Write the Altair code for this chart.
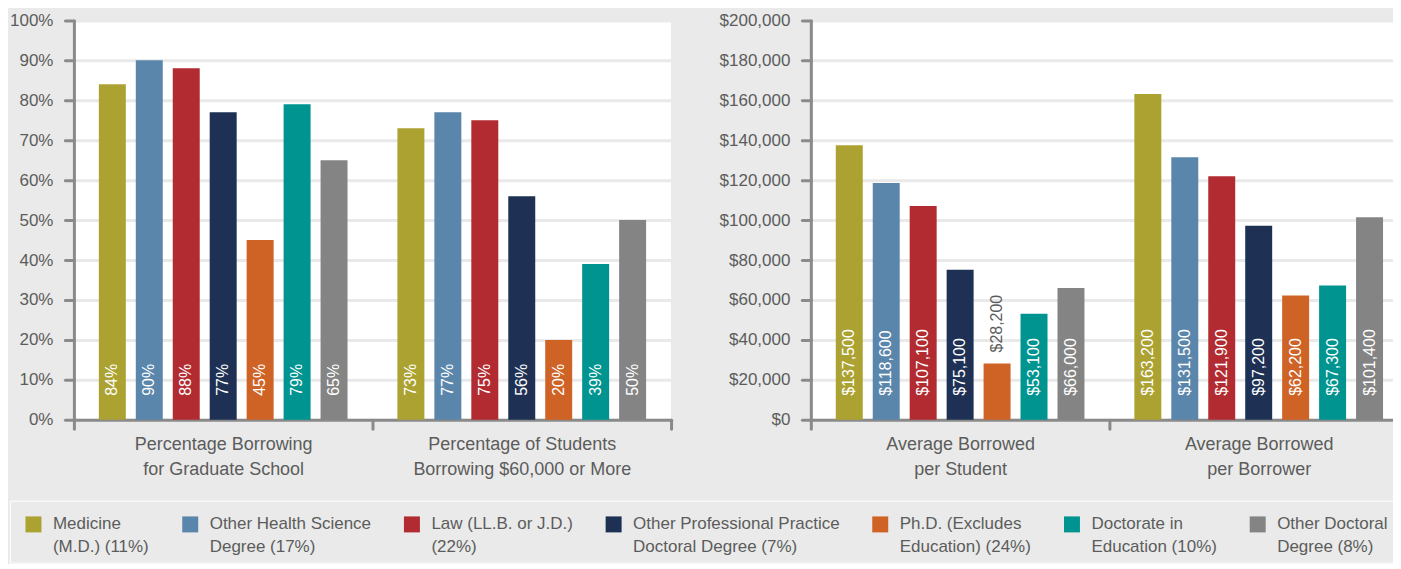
import altair as alt
import pandas as pd

# ---- data ----
degrees = [
    "Medicine|(M.D.) (11%)",
    "Other Health Science|Degree (17%)",
    "Law (LL.B. or J.D.)|(22%)",
    "Other Professional Practice|Doctoral Degree (7%)",
    "Ph.D. (Excludes|Education) (24%)",
    "Doctorate in|Education (10%)",
    "Other Doctoral|Degree (8%)",
]
colors = ["#aba232", "#5a86ab", "#b22b30", "#1e3054", "#cf6225", "#009490", "#838483"]

pct_groups = ["Percentage Borrowing|for Graduate School",
              "Percentage of Students|Borrowing $60,000 or More"]
pct_borrowing = [84, 90, 88, 77, 45, 79, 65]
pct_60k_or_more = [73, 77, 75, 56, 20, 39, 50]

amt_groups = ["Average Borrowed|per Student", "Average Borrowed|per Borrower"]
avg_per_student = [137500, 118600, 107100, 75100, 28200, 53100, 66000]
avg_per_borrower = [163200, 131500, 121900, 97200, 62200, 67300, 101400]

pct_ticks = [0, 10, 20, 30, 40, 50, 60, 70, 80, 90, 100]
amt_ticks = [0, 20000, 40000, 60000, 80000, 100000, 120000, 140000, 160000, 180000, 200000]

FONT = "Liberation Sans, Arial, Helvetica, sans-serif"
BG = "#e9eae9"
TXT = "#5c5c5c"
AX = "#8a8a8a"


def make_df(groups, series, ymax, kind):
    rows = []
    for g, vals in zip(groups, series):
        for d, v in zip(degrees, vals):
            lab = f"{v}%" if kind == "pct" else "${:,}".format(v)
            rows.append({"group": g, "degree": d, "value": v, "label": lab,
                         "pos": "in" if v / ymax >= 0.18 else "out"})
    return pd.DataFrame(rows)


df_pct = make_df(pct_groups, [pct_borrowing, pct_60k_or_more], 100, "pct")
df_amt = make_df(amt_groups, [avg_per_student, avg_per_borrower], 200000, "amt")

legend = alt.Legend(
    orient="none", legendX=-64, legendY=481, direction="horizontal", title=None,
    symbolType="M-1,0H1V2H-1Z", symbolSize=256, symbolStrokeWidth=0, symbolOpacity=1,
    symbolOffset=8,
    labelExpr="split(datum.label, '|')", labelBaseline="top", labelFont=FONT,
    labelFontSize=17, labelColor=TXT, labelOffset=11, labelLimit=500,
    columnPadding=24, padding=7, fillColor=BG, strokeColor="white",
)


def panel(df, groups, ticks, ylab_expr, extent):
    y_scale = alt.Scale(domain=[ticks[0], ticks[-1]], nice=False)
    y_axis = alt.Axis(values=ticks, labelExpr=ylab_expr, minExtent=extent,
                      maxExtent=extent, labelPadding=12, labelFontSize=17,
                      labelOverlap=False, tickCount=len(ticks))
    base = alt.Chart(df).encode(
        x=alt.X("group:N", sort=groups, title=None,
                scale=alt.Scale(paddingInner=0, paddingOuter=0),
                axis=alt.Axis(labelAngle=0, tickBand="extent", grid=False,
                              labelExpr="split(datum.label, '|')",
                              labelLineHeight=25, labelBaseline="top",
                              labelPadding=7, labelFontSize=18, labelLimit=400)),
        xOffset=alt.XOffset("degree:N", sort=degrees,
                            scale=alt.Scale(paddingInner=0.27, paddingOuter=0.675)),
    )
    bars = base.mark_bar().encode(
        y=alt.Y("value:Q", title=None, scale=y_scale, axis=y_axis),
        color=alt.Color("degree:N", sort=degrees,
                        scale=alt.Scale(domain=degrees, range=colors), legend=legend),
    )
    txt_in = base.mark_text(angle=270, align="left", baseline="middle", dx=24,
                            color="white", font=FONT, fontSize=16).encode(
        y=alt.Y("zero:Q", title=None, scale=y_scale, axis=y_axis),
        text="label:N",
    ).transform_calculate(zero="0").transform_filter(alt.datum.pos == "in")
    txt_out = base.mark_text(angle=270, align="left", baseline="middle", dx=11,
                             color=TXT, font=FONT, fontSize=16).encode(
        y=alt.Y("value:Q", title=None, scale=y_scale, axis=y_axis),
        text="label:N",
    ).transform_filter(alt.datum.pos == "out")
    return alt.layer(bars, txt_in, txt_out).properties(width=598, height=400)


left = panel(df_pct, pct_groups, pct_ticks, "datum.value + '%'", 63)
right = panel(df_amt, amt_groups, amt_ticks, "format(datum.value, '$,.0f')", 90)

chart = alt.hconcat(left, right, spacing=46).resolve_scale(
    color="shared", x="independent", y="independent", xOffset="independent"
).properties(
    background=BG, padding={"left": 1, "top": 3, "right": -17, "bottom": 0}
).configure(
    style={"guide-label": {"lineHeight": 23}}
).configure_view(
    fill="white", stroke=None
).configure_axis(
    domainColor=AX, domainWidth=3, domainCap="round",
    tickColor=AX, tickWidth=3, tickSize=9, tickCap="round",
    gridColor="#e8e9e8", gridWidth=3,
    labelFont=FONT, labelColor=TXT, labelFontSize=17,
)

chart.save("out.html", embed_options={"renderer": "svg", "actions": False})
